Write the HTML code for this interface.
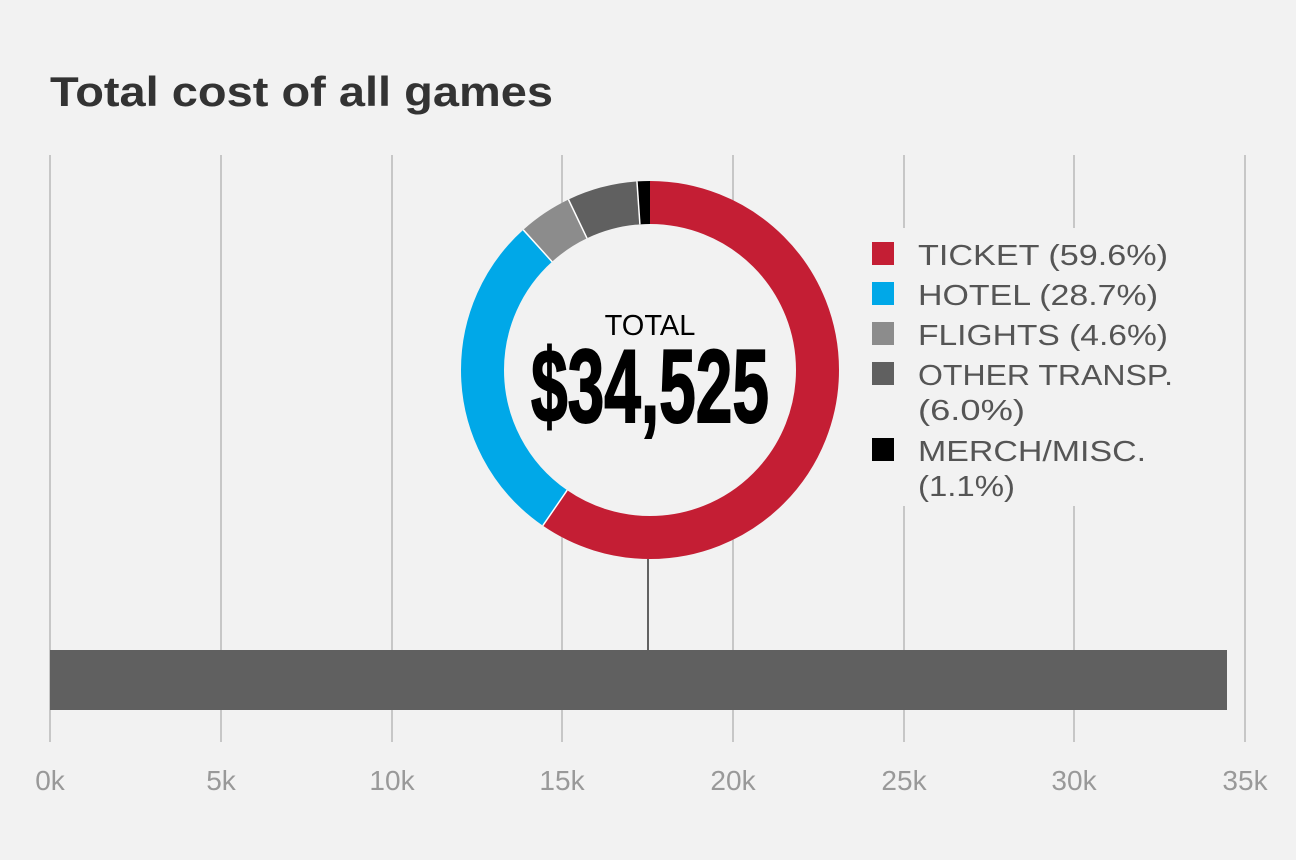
<!DOCTYPE html>
<html><head><meta charset="utf-8"><style>
body{margin:0;background:#f2f2f2;}
svg{display:block}
</style></head><body>
<svg width="1296" height="860" viewBox="0 0 1296 860" xmlns="http://www.w3.org/2000/svg">
<rect width="1296" height="860" fill="#f2f2f2"/>
<text x="50" y="106" textLength="503" lengthAdjust="spacingAndGlyphs" font-family="Liberation Sans, sans-serif" font-weight="bold" font-size="42" fill="#333">Total cost of all games</text>
<g stroke="#b0b0b0" stroke-width="1.3">
<line x1="50" y1="155" x2="50" y2="742"/>
<line x1="221" y1="155" x2="221" y2="742"/>
<line x1="392" y1="155" x2="392" y2="742"/>
<line x1="562" y1="155" x2="562" y2="742"/>
<line x1="733" y1="155" x2="733" y2="742"/>
<line x1="904" y1="155" x2="904" y2="742"/>
<line x1="1074" y1="155" x2="1074" y2="742"/>
<line x1="1245" y1="155" x2="1245" y2="742"/>
</g>
<rect x="860" y="228" width="325" height="278" fill="#f2f2f2"/>
<circle cx="650" cy="370" r="189" fill="#f2f2f2"/>
<line x1="648" y1="559" x2="648" y2="650" stroke="#333" stroke-width="1.5"/>
<rect x="50" y="650" width="1177" height="60" fill="#606060"/>
<g fill="none" stroke-width="43" transform="rotate(-90 650 370)">
<circle cx="650" cy="370" r="167.5" stroke="#c41e34" stroke-dasharray="627.2 1052.4" stroke-dashoffset="0"/>
<circle cx="650" cy="370" r="167.5" stroke="#00a8e8" stroke-dasharray="302.0 1052.4" stroke-dashoffset="-627.2"/>
<circle cx="650" cy="370" r="167.5" stroke="#8c8c8c" stroke-dasharray="48.4 1052.4" stroke-dashoffset="-929.2"/>
<circle cx="650" cy="370" r="167.5" stroke="#606060" stroke-dasharray="63.1 1052.4" stroke-dashoffset="-977.6"/>
<circle cx="650" cy="370" r="167.5" stroke="#000" stroke-dasharray="11.7 1052.4" stroke-dashoffset="-1040.7"/>
</g>
<g stroke="#fff" stroke-width="1.5">
<line x1="650" y1="181" x2="650" y2="224" transform="rotate(214.56 650 370)"/>
<line x1="650" y1="181" x2="650" y2="224" transform="rotate(317.88 650 370)"/>
<line x1="650" y1="181" x2="650" y2="224" transform="rotate(334.44 650 370)"/>
<line x1="650" y1="181" x2="650" y2="224" transform="rotate(356.04 650 370)"/>
</g>
<text x="650" y="335" text-anchor="middle" font-family="Liberation Sans, sans-serif" font-size="29" fill="#000">TOTAL</text>
<text x="531" y="422" textLength="238" lengthAdjust="spacingAndGlyphs" font-family="Liberation Sans Narrow, Liberation Sans, sans-serif" font-weight="bold" font-size="104" fill="#000" stroke="#000" stroke-width="2">$34,525</text>
<g font-family="Liberation Sans, sans-serif" font-size="29" fill="#555">
<rect x="872" y="242" width="22" height="23" fill="#c41e34"/><text x="918" y="265" textLength="250" lengthAdjust="spacingAndGlyphs">TICKET (59.6%)</text>
<rect x="872" y="282" width="22" height="23" fill="#00a8e8"/><text x="918" y="305" textLength="240" lengthAdjust="spacingAndGlyphs">HOTEL (28.7%)</text>
<rect x="872" y="322" width="22" height="23" fill="#8c8c8c"/><text x="918" y="345" textLength="250" lengthAdjust="spacingAndGlyphs">FLIGHTS (4.6%)</text>
<rect x="872" y="362" width="22" height="23" fill="#606060"/><text x="918" y="385" textLength="255" lengthAdjust="spacingAndGlyphs">OTHER TRANSP.</text><text x="918" y="420" textLength="107" lengthAdjust="spacingAndGlyphs">(6.0%)</text>
<rect x="872" y="438" width="22" height="23" fill="#000"/><text x="918" y="461" textLength="228" lengthAdjust="spacingAndGlyphs">MERCH/MISC.</text><text x="918" y="496" textLength="97" lengthAdjust="spacingAndGlyphs">(1.1%)</text>
</g>
<g font-family="Liberation Sans, sans-serif" font-size="28" fill="#999" text-anchor="middle">
<text x="50" y="790">0k</text><text x="221" y="790">5k</text><text x="392" y="790">10k</text><text x="562" y="790">15k</text><text x="733" y="790">20k</text><text x="904" y="790">25k</text><text x="1074" y="790">30k</text><text x="1245" y="790">35k</text>
</g>
</svg>
</body></html>
